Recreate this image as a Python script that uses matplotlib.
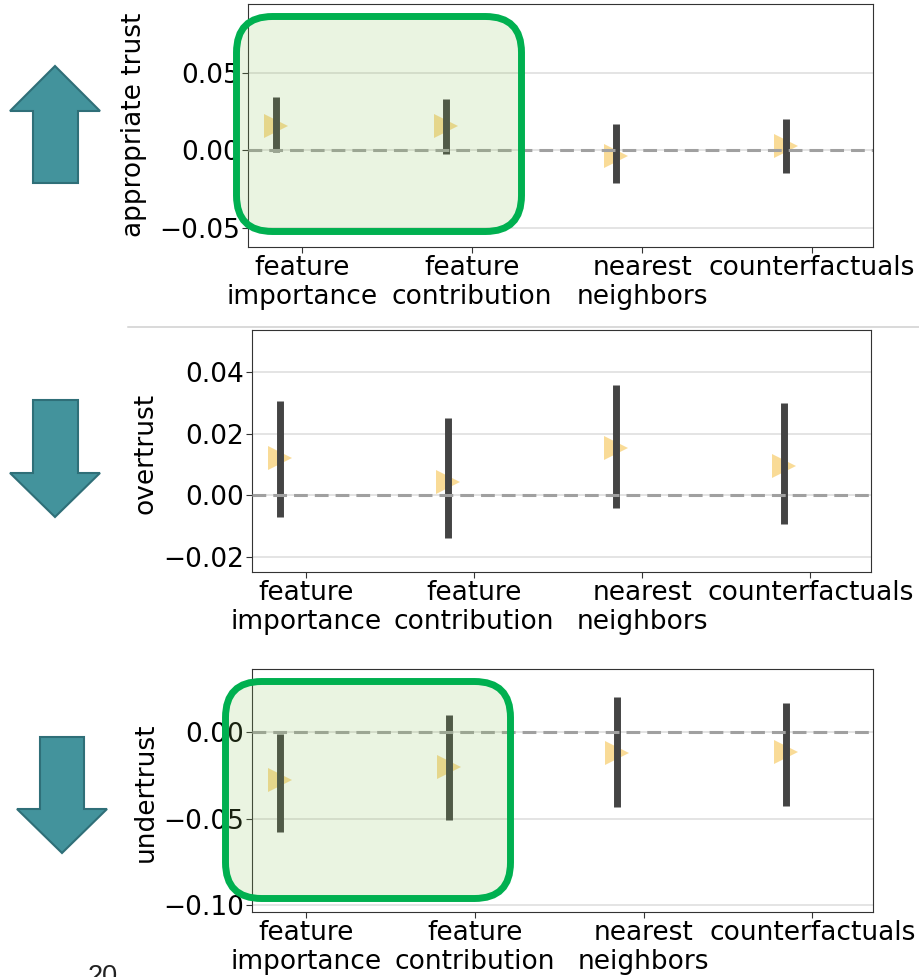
import matplotlib
matplotlib.use("Agg")
import matplotlib.pyplot as plt
from matplotlib.patches import Polygon, FancyBboxPatch
from matplotlib.transforms import Affine2D
import numpy as np

# ---- data ----
categories = ["feature\nimportance", "feature\ncontribution", "nearest\nneighbors", "counterfactuals"]
panel_labels = ["appropriate trust", "overtrust", "undertrust"]

appropriate_mean = [0.0155, 0.0155, -0.0039, 0.0026]
appropriate_low = [-0.0013, -0.0020, -0.0213, -0.0148]
appropriate_high = [0.0348, 0.0330, 0.0168, 0.0206]

overtrust_mean = [0.0120, 0.0042, 0.0152, 0.0094]
overtrust_low = [-0.0071, -0.0139, -0.0042, -0.0094]
overtrust_high = [0.0305, 0.0250, 0.0357, 0.0300]

undertrust_mean = [-0.0277, -0.0202, -0.0121, -0.0116]
undertrust_low = [-0.0580, -0.0510, -0.0434, -0.0428]
undertrust_high = [-0.0012, 0.0098, 0.0202, 0.0168]

yticks_list = [[-0.05, 0.0, 0.05], [-0.02, 0.0, 0.02, 0.04], [-0.10, -0.05, 0.0]]
ylims = [(-0.0623, 0.0945), (-0.0249, 0.0536), (-0.104, 0.0364)]
slide_number = "20"

W, H = 919, 977
fig = plt.figure(figsize=(W / 100, H / 100), dpi=100)
fig.patch.set_facecolor("white")

# pixel transform (origin top-left)
px = Affine2D().scale(1, -1).translate(0, H) + Affine2D().scale(1 / W, 1 / H) + fig.transFigure

def add_ax(l, r, t, b):
    return fig.add_axes([l / W, 1 - b / H, (r - l) / W, (b - t) / H])

axes_px = [(248, 873, 4, 247), (252, 871, 330, 572), (252, 873, 669, 912)]
means = [appropriate_mean, overtrust_mean, undertrust_mean]
lows = [appropriate_low, overtrust_low, undertrust_low]
highs = [appropriate_high, overtrust_high, undertrust_high]
label_pos = [(134, 125), (146, 453), (146, 792)]

x = np.arange(len(categories))
offset = -0.155
for i, (l, r, t, b) in enumerate(axes_px):
    ax = add_ax(l, r, t, b)
    ax.set_xlim(-0.32, 3.36)
    ax.set_ylim(*ylims[i])
    ax.set_yticks(yticks_list[i])
    ax.set_yticklabels([f"{v:.2f}".replace("-", "\u2212") for v in yticks_list[i]])
    ax.set_xticks(x)
    ax.set_xticklabels(categories, linespacing=1.15)
    ax.tick_params(labelsize=19, length=4, width=0.8, color="#333333", pad=2)
    for s in ax.spines.values():
        s.set_color("#333333")
        s.set_linewidth(0.8)
    ax.yaxis.grid(True, color="#dcdcdc", lw=1.1)
    ax.set_axisbelow(True)
    ax.axhline(0, color="#a0a0a0", lw=2.2, ls=(0, (4.5, 2.3)), zorder=4)
    ax.plot(x + offset, means[i], ls="none", marker=">", ms=17,
            color="#f6c85f", alpha=0.65, mew=0, zorder=2)
    ax.vlines(x + offset, lows[i], highs[i], color="#444444", lw=5, zorder=3)
    fig.text(label_pos[i][0] / W, 1 - label_pos[i][1] / H, panel_labels[i],
             rotation=90, ha="center", va="center", fontsize=19)

# separator line
fig.add_artist(plt.Line2D([128, 919], [327, 327], transform=px, color="#d0d0d0", lw=1.1))

# arrows
arrow_face = "#43939c"
arrow_edge = "#2f6f78"
up = [(55, 66), (100, 111), (78, 111), (78, 183), (33, 183), (33, 111), (10, 111)]
down2 = [(33, 400), (78, 400), (78, 473), (100, 473), (55, 517), (10, 473), (33, 473)]
down3 = [(40, 737), (84, 737), (84, 809), (107, 809), (62, 853), (17, 809), (40, 809)]
for pts in (up, down2, down3):
    fig.add_artist(Polygon(pts, closed=True, transform=px, facecolor=arrow_face,
                           edgecolor=arrow_edge, lw=1.5))

# highlight boxes
for (x0, y0, x1, y1) in [(236.5, 16.5, 521.5, 231.5), (225.5, 681.5, 510.5, 898.5)]:
    fig.add_artist(FancyBboxPatch((x0, y0), x1 - x0, y1 - y0,
                                  boxstyle="round,pad=0,rounding_size=36",
                                  transform=px, facecolor=(0.55, 0.76, 0.35, 0.18),
                                  edgecolor="#00b050", lw=5.0, zorder=10))

fig.text(103 / W, 1 - 984 / H, slide_number, ha="center", va="baseline",
         fontsize=19.5, family="Liberation Sans", color="#222222")

fig.savefig("out.png", dpi=100)
